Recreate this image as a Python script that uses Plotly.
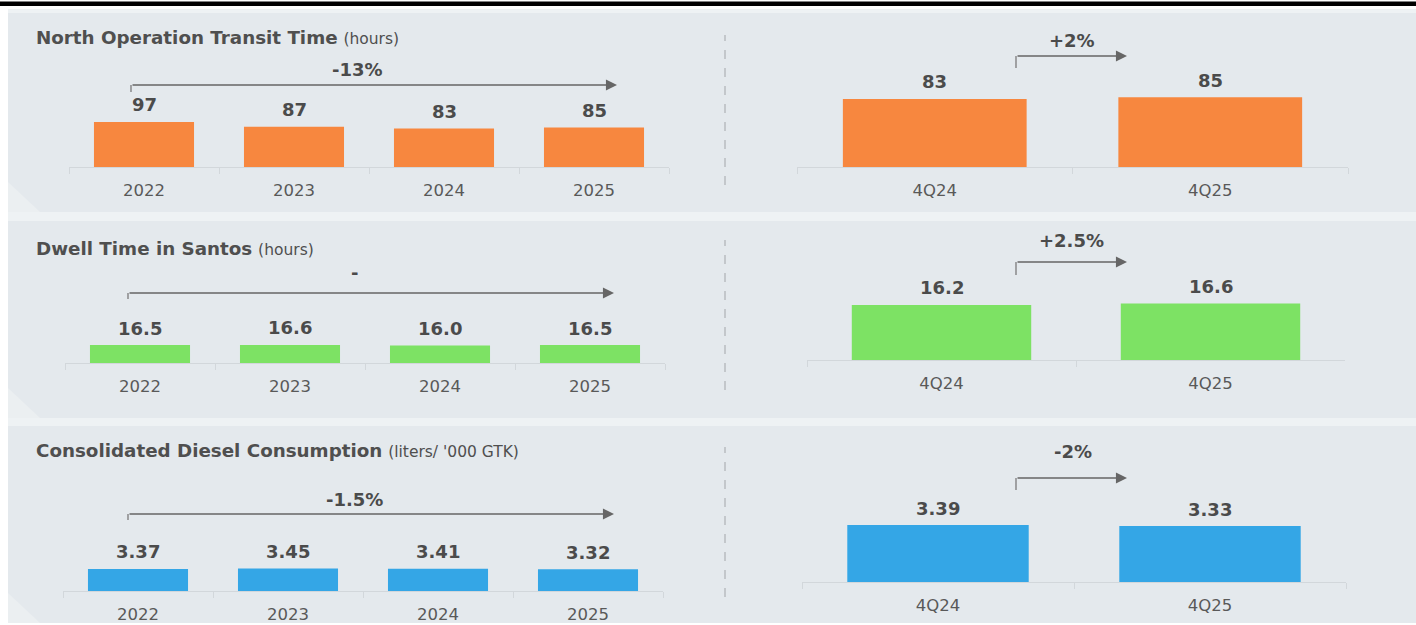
import plotly.graph_objects as go

W, H = 1416, 625

# ---------------- data ----------------
years = ["2022", "2023", "2024", "2025"]
quarters = ["4Q24", "4Q25"]

transit_annual = [97, 87, 83, 85]
transit_quarter = [83, 85]
dwell_annual = [16.5, 16.6, 16.0, 16.5]
dwell_quarter = [16.2, 16.6]
diesel_annual = [3.37, 3.45, 3.41, 3.32]
diesel_quarter = [3.39, 3.33]

titles = ["North Operation Transit Time", "Dwell Time in Santos", "Consolidated Diesel Consumption"]
units = ["(hours)", "(hours)", "(liters/ '000 GTK)"]
annual_change = ["-13%", "-", "-1.5%"]
quarter_change = ["+2%", "+2.5%", "-2%"]
formats = ["{:.0f}", "{:.1f}", "{:.2f}"]

# ---------------- style / layout ----------------
colors = ["#F7873F", "#7DE264", "#34A6E6"]
FONT = "DejaVu Sans"
TXT = "#4b4b4b"
AXC = "#d2d7db"


def fx(p):
    return p / W


def fy(p):
    return 1 - p / H


panels = [
    dict(top=13, bottom=212, title_y=38,
         L=dict(x0=69, x1=669, base=167, k=0.464),
         R=dict(x0=797, x1=1348, base=167, k=0.82),
         bl=dict(x=131, y=85, y2=92, x2=617, tx=357, ty=70),
         br=dict(x=1016, y=56, y2=68, x2=1127, tx=1072, ty=40),
         dash=(35, 185)),
    dict(top=221, bottom=418, title_y=248,
         L=dict(x0=65, x1=665, base=363, k=1.09),
         R=dict(x0=807, x1=1345, base=360, k=3.40),
         bl=dict(x=128, y=293, y2=299, x2=614, tx=354, ty=272),
         br=dict(x=1016, y=262, y2=275, x2=1127, tx=1071, ty=240),
         dash=(240, 390)),
    dict(top=426, bottom=623, title_y=450,
         L=dict(x0=63, x1=663, base=591, k=6.53),
         R=dict(x0=802, x1=1346, base=582, k=16.8),
         bl=dict(x=128, y=514, y2=520, x2=614, tx=354, ty=499),
         br=dict(x=1016, y=478, y2=490, x2=1127, tx=1073, ty=451),
         dash=(447, 597)),
]

annual_sets = [transit_annual, dwell_annual, diesel_annual]
quarter_sets = [transit_quarter, dwell_quarter, diesel_quarter]

fig = go.Figure()
shapes = []
annotations = []
layout_axes = {}

# backgrounds
shapes.append(dict(type="rect", xref="paper", yref="paper", x0=fx(8), x1=1, y0=fy(623), y1=fy(9),
                   fillcolor="#eef2f4", line_width=0, layer="below"))
shapes.append(dict(type="rect", xref="paper", yref="paper", x0=0, x1=1, y0=fy(6), y1=fy(1.5),
                   fillcolor="#000000", line_width=0, layer="below"))

PANEL_BG = "#e4e9ed"
idx = 0
for p, (ann, qtr) in enumerate(zip(annual_sets, quarter_sets)):
    pc = panels[p]
    shapes.append(dict(type="rect", xref="paper", yref="paper", x0=fx(8), x1=1,
                       y0=fy(pc["bottom"]), y1=fy(pc["top"]),
                       fillcolor=PANEL_BG, line_width=0, layer="below"))
    # lighter fold at bottom-left corner
    b = pc["bottom"]
    shapes.append(dict(type="path", xref="paper", yref="paper",
                       path=f"M {fx(8)},{fy(b-30)} L {fx(40)},{fy(b)} L {fx(8)},{fy(b)} Z",
                       fillcolor="#ebeff1", line_width=0, layer="below"))
    # dashed separator
    shapes.append(dict(type="line", xref="paper", yref="paper", x0=fx(725), x1=fx(725),
                       y0=fy(pc["dash"][1]), y1=fy(pc["dash"][0]),
                       line=dict(color="#c3c7cb", width=2, dash="dash"), layer="below"))
    # title
    annotations.append(dict(xref="paper", yref="paper", x=fx(34), y=fy(pc["title_y"]),
                            xanchor="left", yanchor="middle", showarrow=False,
                            text=f"<b>{titles[p]}</b> <span style='font-size:15.5px'>{units[p]}</span>",
                            font=dict(family=FONT, size=18.3, color="#4f4f4f")))

    for side, cats, vals in (("L", years, ann), ("R", quarters, qtr)):
        idx += 1
        sc = pc[side]
        xa = "x" if idx == 1 else f"x{idx}"
        ya = "y" if idx == 1 else f"y{idx}"
        span = 120
        fig.add_trace(go.Bar(x=cats, y=vals, xaxis=xa, yaxis=ya, width=0.667,
                             marker=dict(color=colors[p], line=dict(width=0)),
                             showlegend=False, hoverinfo="skip"))
        layout_axes["xaxis" + ("" if idx == 1 else str(idx))] = dict(
            domain=[fx(sc["x0"]), fx(sc["x1"])], anchor=ya, type="category",
            range=[-0.5, len(cats) - 0.5], showline=True, linecolor=AXC, linewidth=1,
            ticks="outside", ticklen=6, tickcolor=AXC, tickwidth=1, tickson="boundaries",
            ticklabelstandoff=8,
            showgrid=False, zeroline=False, fixedrange=True,
            tickfont=dict(family=FONT, size=16.5, color="#595959"))
        layout_axes["yaxis" + ("" if idx == 1 else str(idx))] = dict(
            domain=[fy(sc["base"]), fy(sc["base"] - span)], anchor=xa,
            range=[0, span / sc["k"]], visible=False, fixedrange=True)
        for i, v in enumerate(vals):
            annotations.append(dict(xref=xa, yref=ya, x=i, y=v, yshift=17,
                                    xanchor="center", yanchor="middle", showarrow=False,
                                    text=f"<b>{formats[p].format(v)}</b>",
                                    font=dict(family=FONT, size=18, color=TXT)))

    # brackets and change labels
    for key, lab in (("bl", annual_change[p]), ("br", quarter_change[p])):
        bc = pc[key]
        shapes.append(dict(type="line", xref="paper", yref="paper", x0=fx(bc["x"]), x1=fx(bc["x"]),
                           y0=fy(bc["y2"]), y1=fy(bc["y"]), line=dict(color="#7a7a7a", width=1.3)))
        annotations.append(dict(xref="paper", yref="paper", x=fx(bc["x2"]), y=fy(bc["y"]),
                                ax=-(bc["x2"] - bc["x"]), ay=0, text="", showarrow=True,
                                arrowhead=2, arrowsize=1.7, arrowwidth=1.3, arrowcolor="#666666"))
        annotations.append(dict(xref="paper", yref="paper", x=fx(bc["tx"]), y=fy(bc["ty"]),
                                xanchor="center", yanchor="middle", showarrow=False,
                                text=f"<b>{lab}</b>",
                                font=dict(family=FONT, size=18, color=TXT)))

fig.update_layout(
    width=W, height=H, margin=dict(l=0, r=0, t=0, b=0),
    paper_bgcolor="#ffffff", plot_bgcolor="rgba(0,0,0,0)",
    shapes=shapes, annotations=annotations, bargap=0.33,
    font=dict(family=FONT),
    **layout_axes,
)

fig.write_html("out.html", config={"displayModeBar": False},
               post_script="document.body.style.margin='0';document.body.style.overflow='hidden';")
